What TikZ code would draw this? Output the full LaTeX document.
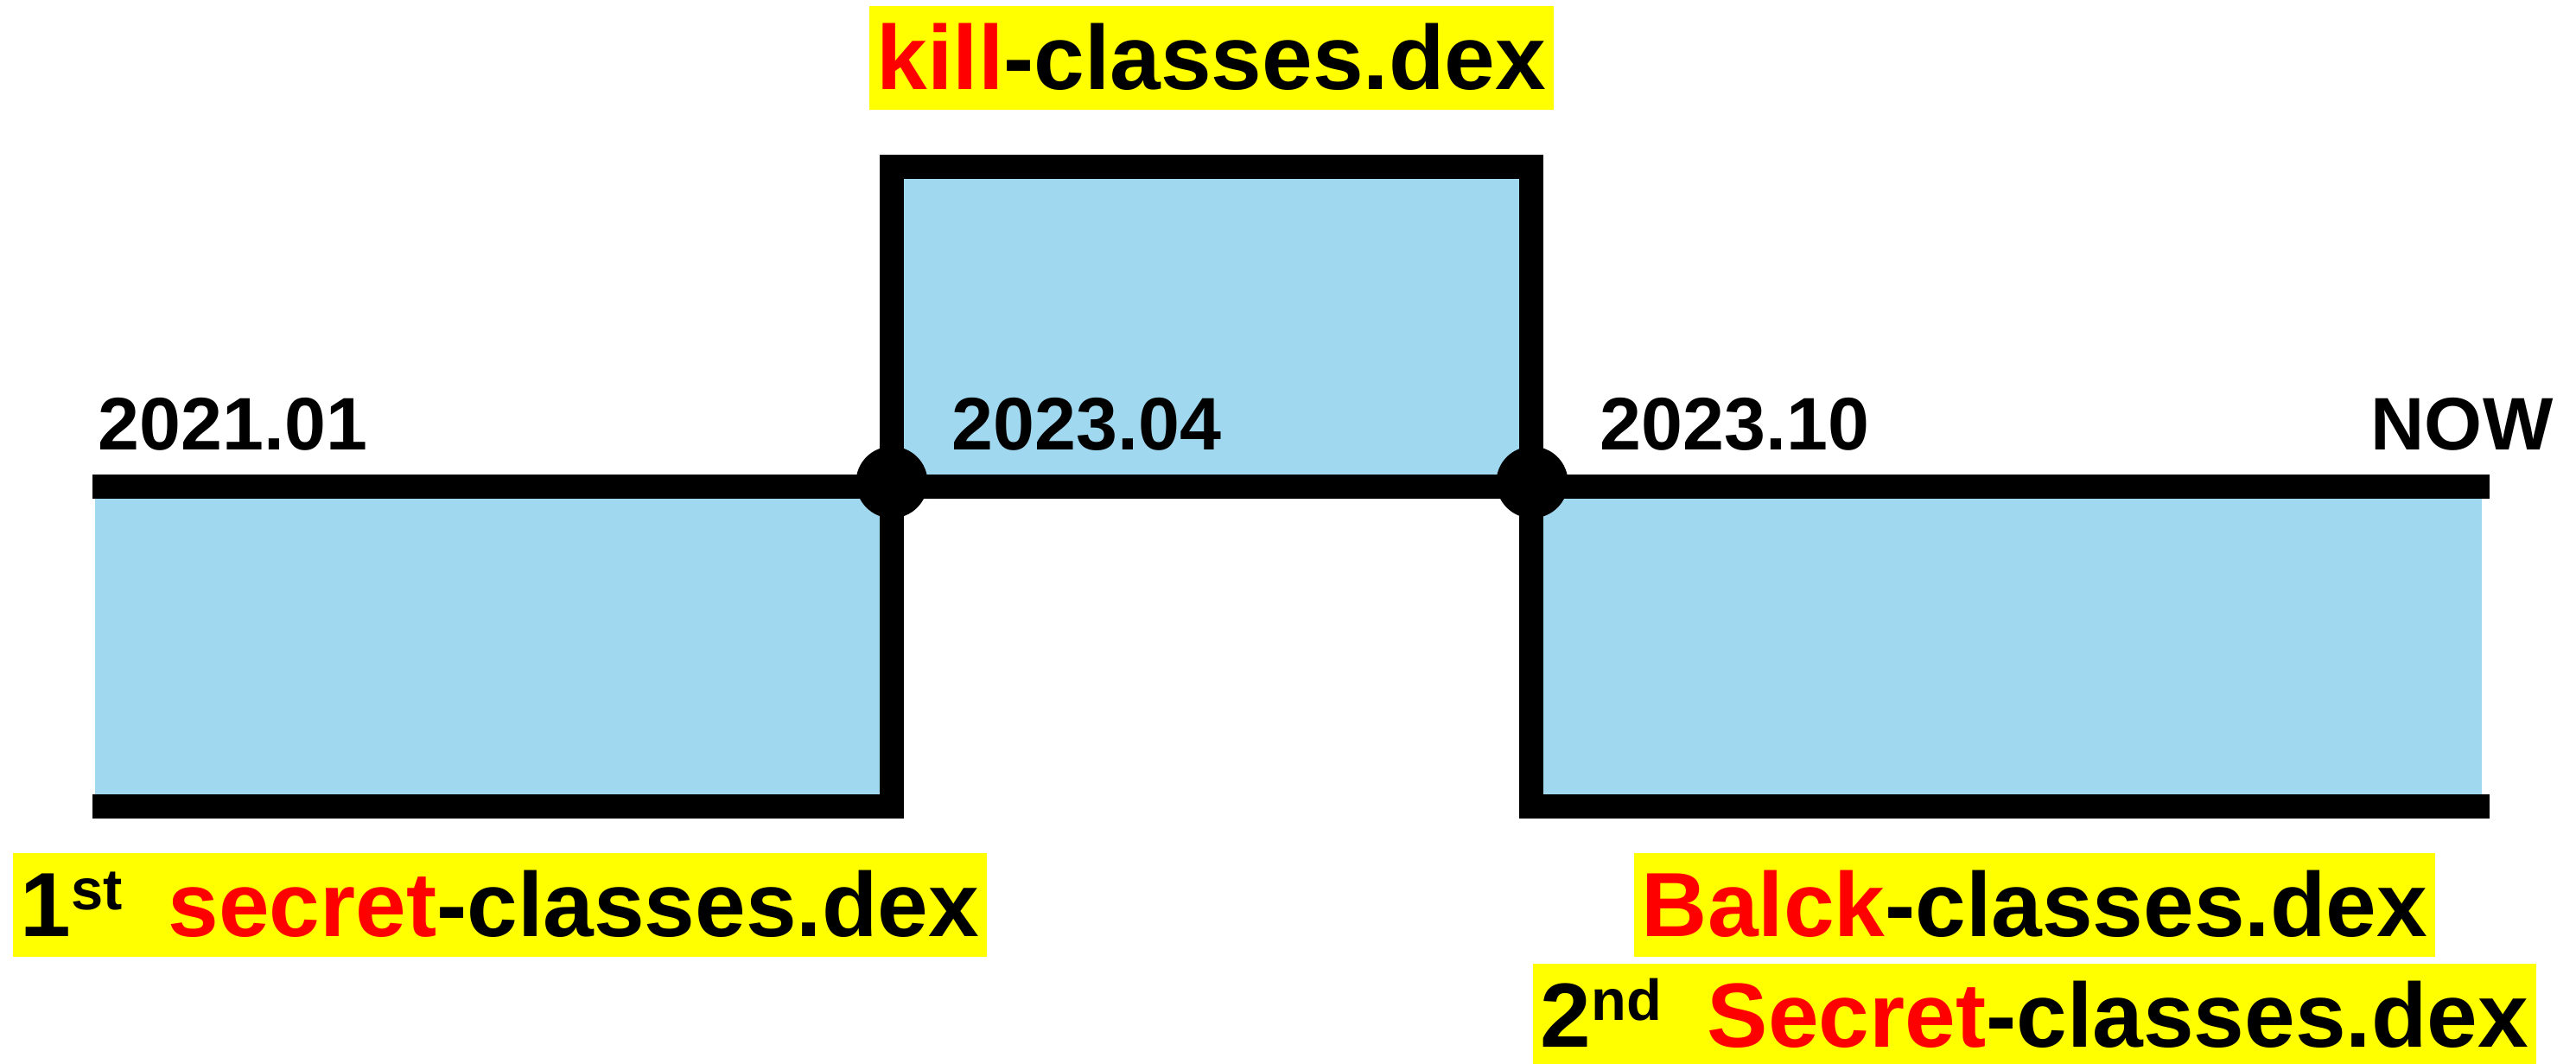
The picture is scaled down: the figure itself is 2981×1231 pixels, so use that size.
\documentclass[tikz,border=0pt]{standalone}
\usepackage{fontspec}
\setmainfont{Liberation Sans}
\usetikzlibrary{positioning}
\definecolor{myblue}{HTML}{A0D8EF}
\definecolor{myred}{HTML}{FF0000}
\definecolor{myyellow}{HTML}{FFFF00}
\newcommand{\ordsup}[1]{\raisebox{8.8pt}{\fontsize{19}{22}\selectfont #1}}

\begin{document}
\begin{tikzpicture}[
		x=0.01cm,
		y=-0.01cm,
		line cap=butt,
		line join=miter,
		track/.style={line width=7.7pt,draw=black},
		period/.style={fill=myblue,draw=none},
		joint/.style={circle,fill=black,draw=none,inner sep=0pt,minimum size=23.6pt},
		datelabel/.style={font=\fontsize{24.5}{28}\selectfont\bfseries,inner sep=0pt},
		filetag/.style={fill=myyellow,inner xsep=2.5pt,inner ysep=0pt,text height=27.3pt,text depth=6.8pt,font=\fontsize{30}{36}\selectfont\bfseries}
	]
	
	\useasboundingbox (0,0) rectangle (2981,1231);
	
	% Corner points of the timeline
	\coordinate (start)  at (107,563);
	\coordinate (now)    at (2881,563);
	\coordinate (lowl)   at (107,933);
	\coordinate (cornl)  at (1032,933);
	\coordinate (topl)   at (1032,193);
	\coordinate (topr)   at (1772,193);
	\coordinate (cornr)  at (1772,933);
	\coordinate (lowr)   at (2881,933);
	
	% Blue periods
	\fill[period] (110,563) rectangle (cornl);
	\fill[period] (topl) rectangle (1772,563);
	\fill[period] (1772,563) rectangle (2872,933);
	
	% Timeline strokes
	\draw[track] (start) -- (now);
	\draw[track] (lowl) -- (cornl) -- (topl) -- (topr) -- (cornr) -- (lowr);
	
	% Switch points
	\node[joint] (sw1) at (1032,558) {};
	\node[joint] (sw2) at (1773,558) {};
	
	% Dates
	\node[datelabel,anchor=base west] (d2101) at (113,521) {2021.01};
	\node[datelabel,anchor=base west] (d2304) at (1101,521) {2023.04};
	\node[datelabel,anchor=base west] (d2310) at (1851,521) {2023.10};
	\node[datelabel,anchor=base east] (dnow)  at (2955,521) {NOW};
	
	% File tags
	\node[filetag] (killtag) at (1402,67)
	{\textcolor{myred}{kill}-classes.dex};
	\node[filetag] (secret1) at (578.5,1047)
	{1\ordsup{st}\hspace{0.5em}\textcolor{myred}{secret}-classes.dex};
	\node[filetag] (balcktag) at (2354.5,1047)
	{\textcolor{myred}{Balck}-classes.dex};
	\node[filetag,below=2pt of balcktag] (secret2)
	{2\ordsup{nd}\hspace{0.5em}\textcolor{myred}{Secret}-classes.dex};
	
\end{tikzpicture}
\end{document}
